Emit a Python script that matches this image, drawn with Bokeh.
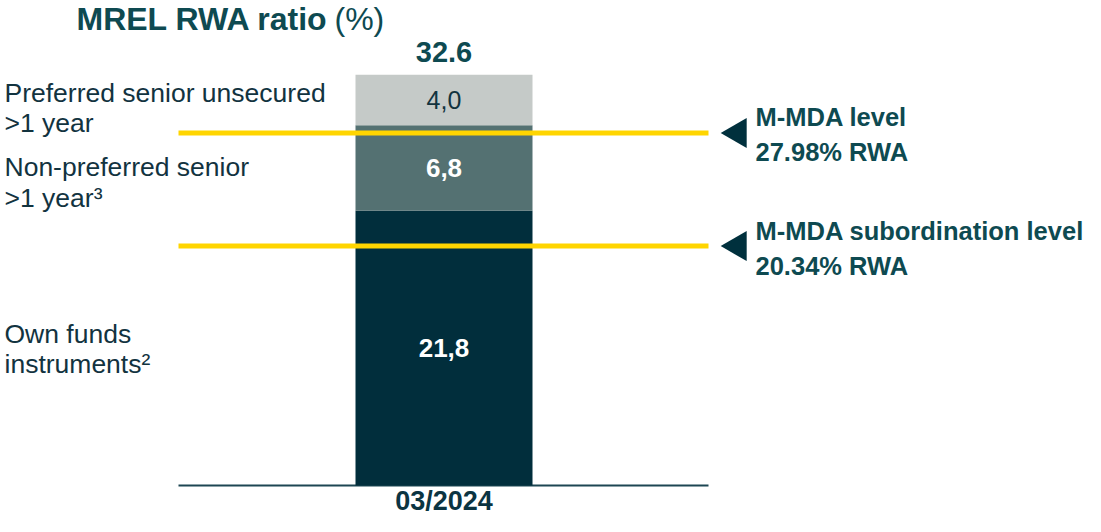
import numpy as np
from bokeh.plotting import figure
from bokeh.models import Range1d, ColumnDataSource
from bokeh.core.properties import value
from bokeh.embed import file_html
from bokeh.resources import INLINE

# ---------------- data ----------------
categories = ["03/2024"]
own_funds = [21.8]
non_preferred = [6.8]
preferred = [4.0]
total = [32.6]
series_lines = [
    ["Own funds", "instruments²"],
    ["Non-preferred senior", ">1 year³"],
    ["Preferred senior unsecured", ">1 year"],
]
mda_names = ["M-MDA level", "M-MDA subordination level"]
mda_values = [27.98, 20.34]
mda_drawn = [27.98, 19.0]  # line levels as drawn in the picture

# ---------------- layout helpers ----------------
W, H = 1085, 516
PX = 12.6          # pixels per percentage point
BASE = 485         # baseline, px from top of the figure
FONT = value("Liberation Sans")

def yd(py):
    return (BASE - py) / PX

DARK = "#012E3C"
TEAL = "#547172"
GREY = "#C5CAC8"
YELLOW = "#FFD500"
TITLE_C = "#0E4A51"
LABEL_C = "#12333F"

p = figure(width=W, height=H, output_backend="svg", toolbar_location=None,
           x_range=Range1d(0, W), y_range=Range1d(-(H - BASE) / PX, BASE / PX),
           x_axis_type=None, y_axis_type=None, min_border=0,
           outline_line_color=None, background_fill_color="white",
           border_fill_color="white")

bar_x = 443.5

# baseline
p.segment(x0=[178], x1=[708], y0=[0], y1=[0], line_color="#1D4653", line_width=2)

# stacked bar
src = ColumnDataSource(dict(x=[bar_x], own=own_funds, nonpref=non_preferred, pref=preferred))
p.vbar_stack(["own", "nonpref", "pref"], x="x", width=177, color=[DARK, TEAL, GREY],
             line_color=None, source=src)

# M-MDA lines
n = len(mda_drawn)
p.segment(x0=[178] * n, x1=[708] * n, y0=mda_drawn, y1=mda_drawn,
          line_color=YELLOW, line_width=5)

# triangles
p.scatter(x=[737.5] * n, y=mda_drawn, marker="triangle", size=30,
          angle=np.pi / 2, fill_color="#00303D", line_color=None)

# segment labels
vals = [own_funds[0], non_preferred[0], preferred[0]]
bottoms = np.concatenate([[0], np.cumsum(vals)[:-1]])
mids = bottoms + np.array(vals) / 2
fmt = [f"{v:.1f}".replace(".", ",") for v in vals]
p.text(x=[bar_x, bar_x], y=list(mids[:2]), text=fmt[:2], text_font=FONT,
       text_font_size="26px", text_font_style="bold", text_color="white",
       text_align="center", text_baseline="middle")
p.text(x=[bar_x], y=[mids[2]], text=[fmt[2]], text_font=FONT,
       text_font_size="25px", text_color=LABEL_C,
       text_align="center", text_baseline="middle")

# total and category
p.text(x=[bar_x], y=total, text=[f"{total[0]:.1f}"], y_offset=-23, text_font=FONT,
       text_font_size="29px", text_font_style="bold", text_color=TITLE_C,
       text_align="center", text_baseline="middle")
p.text(x=[bar_x], y=[0], text=categories, y_offset=15, text_font=FONT,
       text_font_size="27px", text_font_style="bold", text_color="#0B3442",
       text_align="center", text_baseline="middle")

# title
p.text(x=[76], y=[yd(18)], text=["MREL RWA ratio"], text_font=FONT,
       text_font_size="32px", text_font_style="bold", text_color=TITLE_C,
       text_baseline="middle")
p.text(x=[334], y=[yd(18)], text=["(%)"], text_font=FONT,
       text_font_size="32px", text_color=TITLE_C, text_baseline="middle")

# left series labels
left_mid = [(333.2, 363.8), (166.5, 197.2), (92.2, 122.2)]
lx, ly, lt = [], [], []
for lines, mids_ in zip(series_lines, left_mid):
    for t, m in zip(lines, mids_):
        lx.append(4)
        ly.append(yd(m))
        lt.append(t)
p.text(x=lx, y=ly, text=lt, text_font=FONT, text_font_size="26.5px",
       text_color=LABEL_C, text_baseline="middle")

# right M-MDA labels
rx, ry, rt, ro = [], [], [], []
for name, v, d in zip(mda_names, mda_values, mda_drawn):
    rx += [755, 755]
    ry += [d, d]
    rt += [name, f"{v:.2f}% RWA"]
    ro += [-15.5, 19.5]
p.text(x=rx, y=ry, text=rt, y_offset=ro, text_font=FONT, text_font_size="25.5px",
       text_font_style="bold", text_color=TITLE_C, text_baseline="middle")

open("out.html", "w").write(file_html(p, INLINE))
